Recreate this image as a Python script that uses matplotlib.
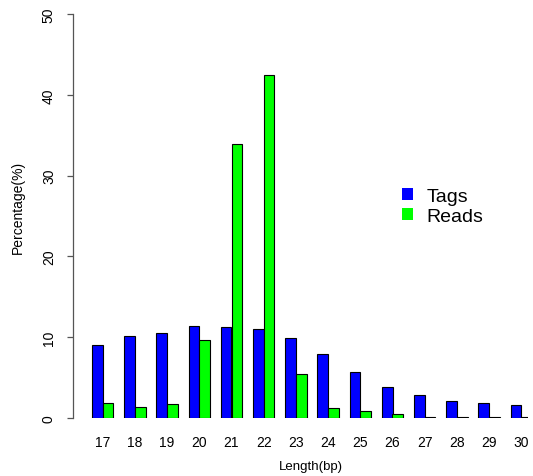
import numpy as np
import matplotlib
matplotlib.use("Agg")
import matplotlib.pyplot as plt
from matplotlib.patches import Patch

plt.rcParams['font.family'] = ['Liberation Sans', 'DejaVu Sans']

# data
lengths = [17, 18, 19, 20, 21, 22, 23, 24, 25, 26, 27, 28, 29, 30]
tags = [9.0, 10.2, 10.5, 11.4, 11.3, 11.0, 9.9, 7.9, 5.7, 3.8, 2.8, 2.15, 1.8, 1.65]
reads = [1.9, 1.3, 1.7, 9.7, 33.9, 42.5, 5.5, 1.2, 0.9, 0.5, 0.1, 0.08, 0.08, 0.08]
series_names = ["Tags", "Reads"]
series_colors = ["#0000FF", "#00FF00"]

W, H = 533, 477
fig = plt.figure(figsize=(W / 100, H / 100), dpi=100)
# axes box in pixels: left 73, right 528, y=0 at 419, y=50 at 15
ax = fig.add_axes([73 / W, (H - 419) / H, (528 - 73) / W, (419 - 15) / H])

x = np.arange(len(lengths))
bw = 1 / 3
ax.bar(x - bw / 2, tags, width=bw, color=series_colors[0], edgecolor='black', linewidth=0.8)
ax.bar(x + bw / 2, reads, width=bw, color=series_colors[1], edgecolor='black', linewidth=0.8)

gap = 32.2  # pixels per group
ax.set_xlim((73 - 102.7) / gap, (528 - 102.7) / gap)
ax.set_ylim(0, 50)

for s in ['top', 'right', 'bottom']:
    ax.spines[s].set_visible(False)
ax.spines['left'].set_color('#555555')
ax.spines['left'].set_linewidth(0.9)

ax.set_xticks(x)
ax.set_xticklabels([str(v) for v in lengths])
ax.tick_params(axis='x', length=0, pad=12, labelsize=10)
ax.set_yticks([0, 10, 20, 30, 40, 50])
ax.tick_params(axis='y', length=4.3, width=0.9, color='#555555', pad=8, labelsize=10)
for lbl in ax.get_yticklabels():
    lbl.set_rotation(90)
    lbl.set_va('center')

ax.set_ylabel("Percentage(%)", fontsize=10)
ax.yaxis.set_label_coords((17.5 - 73) / 455, 0.523)
ax.yaxis.label.set_va('center')
ax.set_xlabel("Length(bp)", fontsize=9.5)
ax.xaxis.set_label_coords(0.523, (419 - 467) / 404)
ax.xaxis.label.set_va('center')

handles = [Patch(facecolor=c, edgecolor='none') for c in series_colors]
ax.legend(handles, series_names, loc='center left',
          bbox_to_anchor=(401.5 / W, (H - 207.5) / H), bbox_transform=fig.transFigure,
          frameon=False, fontsize=14, borderpad=0, borderaxespad=0,
          handlelength=0.57, handleheight=0.57,
          handletextpad=0.73, labelspacing=0.12)

fig.savefig("out.png", dpi=100)
